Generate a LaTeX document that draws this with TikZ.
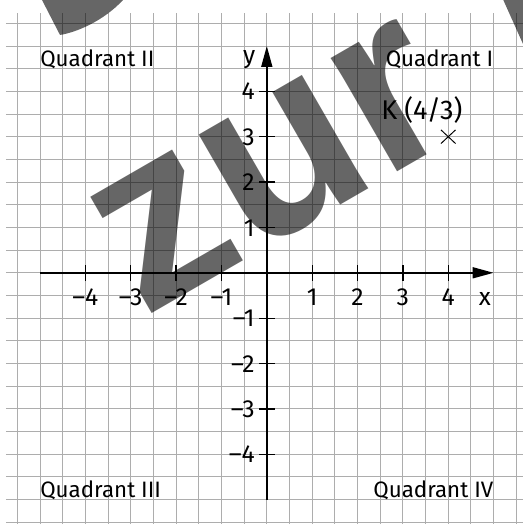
\documentclass[tikz,border=0pt]{standalone}
\usepackage{fontspec}
\setmainfont{Fira Sans}
\newfontfamily\markfont{Liberation Sans}
\usetikzlibrary{arrows.meta}
\tikzstyle{gridline} = [draw=black!32, line width=0.6pt]
\tikzstyle{axisline} = [line width=1.1pt, -{Triangle[length=4.6mm, width=2.4mm]}]
\tikzstyle{tickmark} = [line width=0.8pt]
\tikzstyle{axislabel} = [font=\fontsize{15.5}{18}\selectfont, inner sep=0pt]
\tikzstyle{quadlabel} = [font=\fontsize{14}{17}\selectfont, inner sep=0pt]
\tikzstyle{watermark} = [fill=black, fill opacity=0.6, draw=none]

\begin{document}
\begin{tikzpicture}
\useasboundingbox (-5.882,-5.538) rectangle (5.648,6.014);

\begin{scope}
\clip (-5.882,-5.538) rectangle (5.648,6.014);

% squared paper
\foreach \k in {-11,...,11} {
  \draw[gridline] (\k/2,-5.75) -- (\k/2,5.72);
  \draw[gridline] (-5.75,\k/2) -- (5.75,\k/2);
}

% axes with ticks
\draw[axisline] (-5,0) -- (5,0);
\draw[axisline] (0,-5) -- (0,5);
\foreach \i in {1,...,4} {
  \draw[tickmark] (\i,-0.17) -- (\i,0.17);
  \draw[tickmark] (-\i,-0.17) -- (-\i,0.17);
  \draw[tickmark] (-0.17,\i) -- (0.17,\i);
  \draw[tickmark] (-0.17,-\i) -- (0.17,-\i);
  \node[axislabel, anchor=base] (xp\i) at (\i,-0.73) {\i};
  \node[axislabel, anchor=base] (xm\i) at (-\i,-0.73) {–\i};
  \node[axislabel, anchor=base east] (yp\i) at (-0.26,\i-0.19) {\i};
  \node[axislabel, anchor=base east] (ym\i) at (-0.26,-\i-0.19) {–\i};
}
\node[axislabel, anchor=base] (xlab) at (4.81,-0.73) {x};
\node[axislabel, anchor=base] (ylab) at (-0.39,4.61) {y};

% quadrants
\node[quadlabel, anchor=base west] (q2) at (-5,4.54) {Quadrant II};
\node[quadlabel, anchor=base east] (q1) at (5,4.54) {Quadrant I};
\node[quadlabel, anchor=base west] (q3) at (-5,-4.95) {Quadrant III};
\node[quadlabel, anchor=base east] (q4) at (5,-4.95) {Quadrant IV};

% point K
\coordinate (K) at (4,3);
\draw[line width=0.6pt] ([shift={(-0.16,-0.15)}]K) -- ([shift={(0.16,0.15)}]K);
\draw[line width=0.6pt] ([shift={(-0.16,0.15)}]K) -- ([shift={(0.16,-0.15)}]K);
\node[axislabel, font=\fontsize{17}{20}\selectfont, anchor=base] (Klab) at (3.42,3.39) {K (4/3)};

% watermark
\node[anchor=base west, inner sep=0pt, rotate=30, text=black, text opacity=0.6,
  font=\markfont\bfseries\fontsize{156}{156}\selectfont] (mark) at (-2.72,-1.02) {zur};
\path[watermark] (-5.0,6.1) -- (-4.559,5.243) .. controls (-4.2,5.30) and (-3.6,5.55) .. (-3.17,6.014) -- (-3.1,6.1) -- cycle;
\path[watermark] (5.214,6.014) -- (5.7,4.93) -- (5.7,6.1) -- (5.17,6.1) -- cycle;
\end{scope}
\end{tikzpicture}
\end{document}
